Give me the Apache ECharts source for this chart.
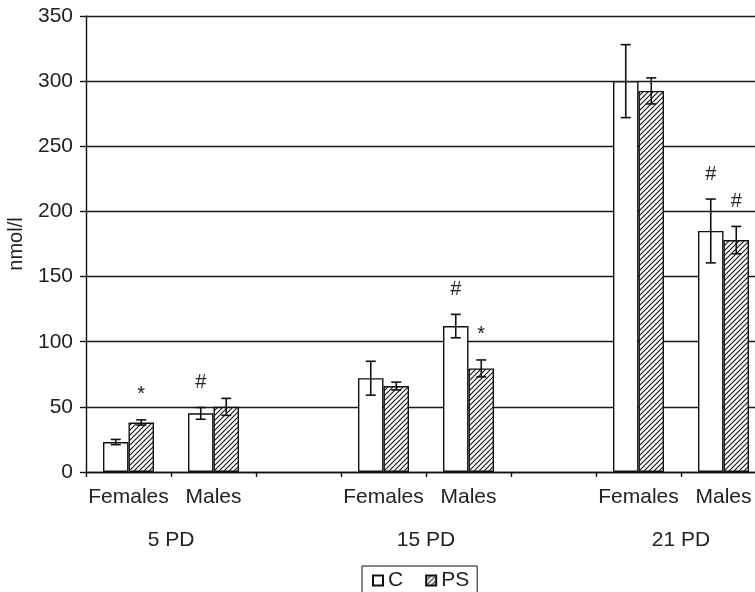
<!DOCTYPE html>
<html>
<head>
<meta charset="utf-8">
<title>nmol/l by age and sex</title>
<script src="https://cdn.jsdelivr.net/npm/echarts@6/dist/echarts.min.js"></script>
<style>
  html, body { margin: 0; padding: 0; background: #fff; }
  #chart { width: 755px; height: 592px; }
</style>
</head>
<body>
<div id="chart"></div>
<script>
// Categories along the x axis (blank slots separate the age groups)
const categories = ['Females', 'Males', '', 'Females', 'Males', '', 'Females', 'Males'];
const groups = ['5 PD', '15 PD', '21 PD'];
const seriesNames = ['C', 'PS'];

// Means and error half-widths (nmol/l)
const cMean  = [23, 45, null, 72, 112, null, 300, 185];
const cErr   = [2, 4.5, null, 13, 9, null, 28, 24.5];
const psMean = [38, 50, null, 66, 79.5, null, 292.5, 178];
const psErr  = [2, 6.5, null, 3, 6.5, null, 10, 10.5];

// Significance marks above each bar
const cNotes  = ['', '#', '', '', '#', '', '', '#'];
const psNotes = ['*', '', '', '', '*', '', '', '#'];

const yTicks = { min: 0, max: 350, interval: 50 };

const FONT = "'Liberation Sans', Arial, Helvetica, sans-serif";
const INK = '#222';
const BAR_FRAC = 0.30;

// Diagonal hatch fill for the PS bars
function hatchPattern() {
  const s = 5;
  const c = document.createElement('canvas');
  c.width = s; c.height = s;
  const g = c.getContext('2d');
  g.fillStyle = '#fff';
  g.fillRect(0, 0, s, s);
  g.strokeStyle = '#111';
  g.lineWidth = 1.1;
  g.beginPath();
  g.moveTo(0, s); g.lineTo(s, 0);
  g.moveTo(-1, 1); g.lineTo(1, -1);
  g.moveTo(s - 1, s + 1); g.lineTo(s + 1, s - 1);
  g.stroke();
  return c;
}

const errItems = [];
const noteItems = [];
categories.forEach((_, i) => {
  if (cMean[i] != null) {
    errItems.push([i, cMean[i], cErr[i], -1]);
    if (cNotes[i]) noteItems.push({ i: i, top: cMean[i] + cErr[i], side: -1, text: cNotes[i] });
  }
  if (psMean[i] != null) {
    errItems.push([i, psMean[i], psErr[i], 1]);
    if (psNotes[i]) noteItems.push({ i: i, top: psMean[i] + psErr[i], side: 1, text: psNotes[i] });
  }
});

function renderErr(params, api) {
  const i = api.value(0), m = api.value(1), e = api.value(2), side = api.value(3);
  const bw = api.size([1, 0])[0];
  const dx = side * bw * BAR_FRAC / 2;
  const top = api.coord([i, m + e]);
  const bot = api.coord([i, m - e]);
  const x = top[0] + dx;
  const cap = 5;
  const st = { stroke: '#111', lineWidth: 1.6 };
  return {
    type: 'group',
    children: [
      { type: 'line', shape: { x1: x, y1: top[1], x2: x, y2: bot[1] }, style: st },
      { type: 'line', shape: { x1: x - cap, y1: top[1], x2: x + cap, y2: top[1] }, style: st },
      { type: 'line', shape: { x1: x - cap, y1: bot[1], x2: x + cap, y2: bot[1] }, style: st }
    ]
  };
}

function renderNote(params, api) {
  const n = noteItems[params.dataIndex];
  const bw = api.size([1, 0])[0];
  const p = api.coord([api.value(0), api.value(1)]);
  return {
    type: 'text',
    style: {
      x: p[0] + api.value(2) * bw * BAR_FRAC / 2,
      y: p[1] - 25,
      text: n.text,
      fill: INK,
      font: '20px ' + FONT,
      align: 'center',
      verticalAlign: 'middle'
    }
  };
}

const chart = echarts.init(document.getElementById('chart'), null, { renderer: 'canvas' });

const option = {
  animation: false,
  backgroundColor: '#fff',
  textStyle: { fontFamily: FONT, color: INK },
  grid: {
    left: 86, right: -11, top: 16, bottom: 120,
    containLabel: false,
    outerBoundsMode: 'none'
  },
  legend: {
    data: seriesNames,
    left: 362,
    top: 566,
    orient: 'horizontal',
    icon: 'rect',
    itemWidth: 10,
    itemHeight: 10,
    itemGap: 22,
    padding: [4, 8, 6, 10],
    borderColor: '#111',
    borderWidth: 1,
    textStyle: { fontSize: 21, color: INK, fontFamily: FONT }
  },
  xAxis: {
    type: 'category',
    data: categories,
    boundaryGap: true,
    axisLine: { show: true, lineStyle: { color: '#111', width: 1.4 } },
    axisTick: { show: true, length: 5, lineStyle: { color: '#111', width: 1.4 } },
    axisLabel: { interval: 0, margin: 15, fontSize: 21, color: INK, fontFamily: FONT }
  },
  yAxis: {
    type: 'value',
    min: yTicks.min,
    max: yTicks.max,
    interval: yTicks.interval,
    name: 'nmol/l',
    nameLocation: 'middle',
    nameRotate: 90,
    nameGap: 60,
    nameTextStyle: { fontSize: 20, color: INK, fontFamily: FONT },
    axisLine: { show: true, lineStyle: { color: '#111', width: 1.4 } },
    axisTick: { show: true, length: 6, lineStyle: { color: '#111', width: 1.4 } },
    axisLabel: { margin: 13, fontSize: 21, color: INK, fontFamily: FONT },
    splitLine: { show: true, lineStyle: { color: '#1a1a1a', width: 1.4 } }
  },
  series: [
    {
      name: seriesNames[0],
      type: 'bar',
      data: cMean,
      barWidth: (BAR_FRAC * 100) + '%',
      barGap: '0%',
      itemStyle: { color: '#fff', borderColor: '#111', borderWidth: 1.4 },
      z: 2
    },
    {
      name: seriesNames[1],
      type: 'bar',
      data: psMean,
      barWidth: (BAR_FRAC * 100) + '%',
      barGap: '0%',
      itemStyle: { color: { image: hatchPattern(), repeat: 'repeat' }, borderColor: '#111', borderWidth: 1.4 },
      z: 2
    },
    {
      type: 'custom',
      renderItem: renderErr,
      data: errItems,
      encode: { x: 0, y: 1 },
      z: 5,
      silent: true
    },
    {
      type: 'custom',
      renderItem: renderNote,
      data: noteItems.map(n => [n.i, n.top, n.side]),
      encode: { x: 0, y: 1 },
      z: 6,
      silent: true
    }
  ]
};

chart.setOption(option);

// Age-group captions centred under each Females/Males pair
const groupText = [];
let g = 0;
categories.forEach((name, i) => {
  if (name === 'Females' && categories[i + 1] === 'Males' && g < groups.length) {
    const a = chart.convertToPixel({ xAxisIndex: 0 }, i);
    const b = chart.convertToPixel({ xAxisIndex: 0 }, i + 1);
    groupText.push({
      type: 'text',
      x: (a + b) / 2,
      y: 540,
      style: {
        text: groups[g],
        fill: INK,
        font: '21px ' + FONT,
        align: 'center',
        verticalAlign: 'middle'
      }
    });
    g++;
  }
});
chart.setOption({ graphic: groupText });
</script>
</body>
</html>
